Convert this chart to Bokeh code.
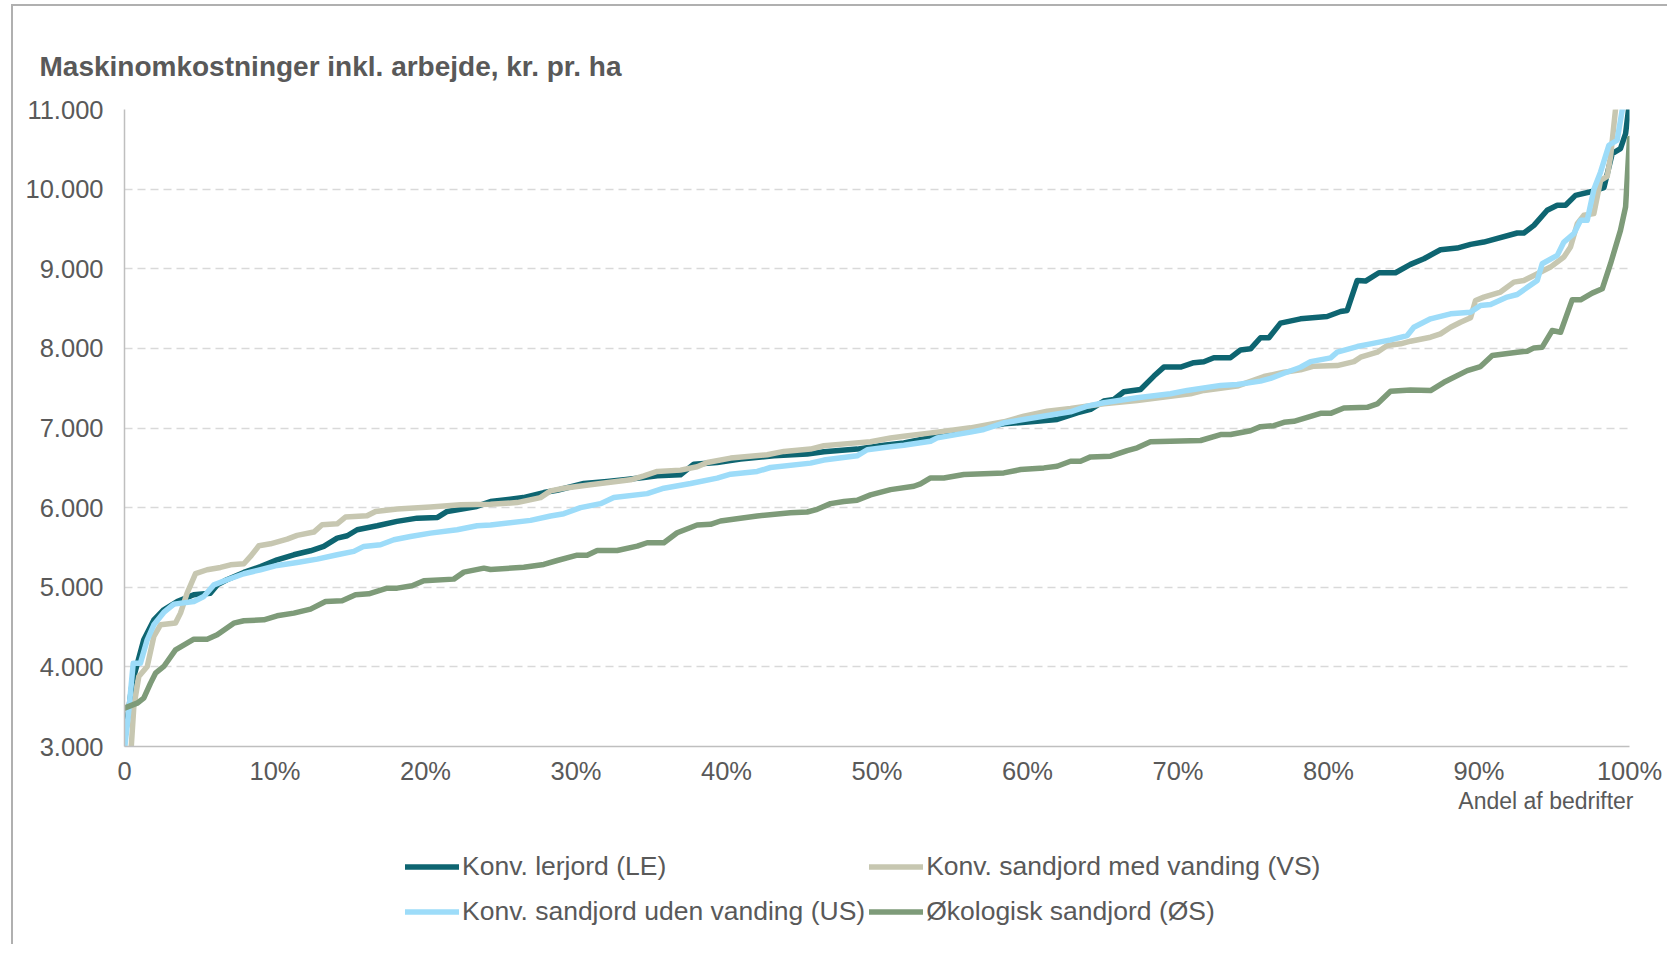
from bokeh.plotting import figure
from bokeh.layouts import column
from bokeh.models import Range1d, FixedTicker, Legend, LegendItem, Title
from bokeh.embed import file_html
from bokeh.resources import INLINE

# ---------------- data (share of farms in %, cost in kr. per ha) ----------------
le_x = [0.0, 0.51, 1.28, 1.95, 2.61, 3.5, 4.6, 5.7, 6.16, 6.8, 7.93, 9.04, 10.14, 11.25,
        12.36, 13.24, 14.13, 14.8, 15.46, 16.79, 18.1, 19.45, 20.8, 21.44, 23.4, 24.32,
        26.5, 27.86, 28.75, 30.52, 32.07, 33.18, 34.51, 35.4, 36.94, 37.83, 39.38, 40.93,
        43.15, 45.36, 46.47, 48.68, 50.3, 51.78, 54.0, 56.21, 58.43, 60.64, 61.97, 63.3,
        64.19, 65.07, 65.74, 66.4, 67.51, 68.4, 69.06, 70.17, 71.05, 71.72, 72.38, 73.49,
        74.15, 74.82, 75.48, 76.04, 76.81, 78.14, 79.91, 80.8, 81.24, 81.91, 82.46, 83.35,
        84.45, 85.45, 86.34, 87.44, 88.55, 89.44, 90.32, 92.54, 92.98, 93.65, 94.53, 95.2,
        95.75, 96.41, 97.63, 98.3, 98.85, 99.4, 99.74, 100.0]
le_y = [3060, 3800, 4340, 4590, 4717, 4820, 4905, 4926, 5030, 5094, 5186, 5261, 5345, 5408,
        5458, 5513, 5617, 5647, 5722, 5772, 5827, 5868, 5877, 5952, 6015, 6076,
        6126, 6189, 6218, 6303, 6328, 6349, 6378, 6399, 6412, 6546, 6567, 6609,
        6651, 6672, 6702, 6735, 6780, 6813, 6897, 6981, 7052, 7086, 7107, 7191,
        7233, 7338, 7358, 7455, 7484, 7652, 7765, 7765, 7820, 7832, 7883, 7883,
        7979, 7994, 8134, 8134, 8317, 8371, 8400, 8463, 8476, 8853, 8845, 8950,
        8950, 9055, 9126, 9239, 9260, 9306, 9335, 9449, 9449, 9545, 9734, 9797,
        9797, 9922, 9977, 10019, 10447, 10509, 10698, 11100]

vs_x = [0.0, 0.45, 0.62, 0.95, 1.51, 1.95, 2.39, 3.39, 3.72, 4.16, 4.72, 5.49, 6.38, 7.04,
        7.93, 8.37, 8.93, 9.7, 10.81, 11.47, 12.58, 13.13, 14.13, 14.68, 16.12, 16.68,
        18.12, 20.33, 22.33, 24.32, 26.09, 27.64, 28.31, 29.19, 30.96, 33.62, 34.51, 35.4,
        36.94, 38.05, 38.72, 40.27, 42.7, 43.81, 45.58, 46.47, 48.24, 49.57, 50.9, 51.78,
        54.0, 56.21, 58.43, 59.76, 61.31, 62.86, 65.07, 67.29, 69.5, 70.83, 71.72, 73.93,
        75.71, 77.04, 78.14, 79.03, 80.58, 81.69, 82.13, 83.24, 83.9, 84.79, 85.45, 86.78,
        87.44, 88.11, 88.77, 89.44, 89.77, 90.32, 91.43, 92.32, 92.98, 93.65, 94.75, 95.64,
        96.08, 96.53, 96.97, 97.63, 98.08, 98.52, 98.74, 99.07, 99.4]
vs_y = [2600, 3000, 3502, 3880, 4005, 4382, 4528, 4550, 4675, 4926, 5170, 5220, 5249, 5282,
        5295, 5387, 5521, 5546, 5605, 5651, 5693, 5785, 5797, 5881, 5898, 5952,
        5982, 6007, 6036, 6042, 6063, 6126, 6210, 6244, 6286, 6349, 6399, 6454,
        6471, 6513, 6567, 6622, 6664, 6706, 6735, 6777, 6807, 6828, 6874, 6897,
        6948, 7002, 7078, 7149, 7212, 7245, 7304, 7346, 7400, 7430, 7472, 7526,
        7646, 7700, 7730, 7776, 7784, 7834, 7889, 7952, 8036, 8057, 8090, 8140,
        8182, 8266, 8329, 8384, 8602, 8644, 8707, 8832, 8853, 8916, 9021, 9147,
        9273, 9566, 9671, 9692, 10111, 10161, 10405, 11000, 11800]

us_x = [0.0, 0.07, 0.29, 0.58, 1.06, 1.51, 1.95, 2.61, 3.28, 4.61, 5.27, 5.94, 6.82, 7.93,
        9.04, 10.14, 11.47, 12.8, 14.13, 15.24, 15.9, 17.01, 17.9, 19.0, 20.33, 22.1,
        23.43, 24.32, 26.98, 28.31, 29.19, 30.3, 31.63, 32.51, 34.73, 35.84, 37.61, 39.38,
        40.27, 42.04, 42.92, 45.58, 46.47, 48.68, 49.35, 50.9, 51.78, 53.56, 54.0, 56.21,
        57.1, 58.43, 60.64, 62.86, 63.97, 65.07, 67.29, 69.5, 70.61, 72.83, 73.93, 75.48,
        76.15, 77.04, 78.14, 78.81, 80.14, 80.58, 81.91, 82.79, 84.12, 85.23, 85.67, 86.78,
        88.11, 89.44, 90.1, 90.77, 91.87, 92.54, 93.87, 94.2, 95.2, 95.64, 96.3, 96.75,
        97.19, 97.63, 98.08, 98.63, 99.18, 99.52, 100.0]
us_y = [2950, 3084, 3460, 4047, 4047, 4340, 4528, 4683, 4788, 4821, 4884, 5030, 5094, 5170,
        5220, 5274, 5312, 5353, 5408, 5450, 5513, 5534, 5597, 5638, 5680, 5722,
        5772, 5782, 5840, 5895, 5924, 6000, 6050, 6126, 6176, 6244, 6303, 6370,
        6420, 6454, 6504, 6559, 6597, 6651, 6727, 6765, 6784, 6834, 6876, 6948,
        6981, 7065, 7136, 7203, 7275, 7317, 7379, 7430, 7472, 7535, 7547, 7589,
        7623, 7688, 7763, 7834, 7881, 7952, 8023, 8057, 8107, 8161, 8266, 8371,
        8434, 8455, 8539, 8551, 8644, 8677, 8853, 9063, 9168, 9335, 9440, 9608,
        9608, 9994, 10216, 10551, 10614, 11000, 11500]

os_x = [0.0, 0.84, 1.28, 1.73, 2.06, 2.61, 3.39, 4.61, 5.49, 6.16, 7.26, 7.93, 9.26, 10.14,
        11.25, 12.36, 13.36, 14.46, 15.35, 16.23, 17.45, 18.12, 19.11, 19.89, 21.88, 22.55,
        23.88, 24.32, 26.53, 27.86, 28.75, 30.08, 30.74, 31.41, 32.74, 34.07, 34.73, 35.84,
        36.72, 38.05, 38.94, 39.6, 40.93, 42.04, 44.25, 45.36, 46.03, 46.91, 47.8, 48.68,
        49.57, 50.9, 52.45, 52.89, 53.56, 54.44, 55.77, 58.43, 59.54, 61.09, 61.97, 62.86,
        63.52, 64.19, 65.52, 66.62, 67.29, 68.17, 69.5, 71.5, 72.83, 73.49, 74.82, 75.48,
        76.37, 77.04, 77.7, 78.59, 79.47, 80.14, 81.02, 82.57, 83.24, 84.12, 85.45, 86.78,
        87.67, 89.22, 90.1, 90.88, 92.54, 93.2, 93.65, 94.2, 94.86, 95.42, 96.19, 96.75,
        97.52, 98.19, 98.74, 99.4, 99.74, 100.0]
os_y = [3482, 3544, 3607, 3796, 3921, 4005, 4214, 4348, 4348, 4403, 4549, 4579, 4591, 4641,
        4675, 4725, 4821, 4830, 4905, 4918, 4989, 4989, 5018, 5081, 5102, 5190,
        5240, 5223, 5252, 5286, 5336, 5403, 5403, 5462, 5462, 5517, 5559, 5559,
        5685, 5782, 5790, 5832, 5866, 5895, 5937, 5945, 5979, 6050, 6076, 6092,
        6160, 6226, 6268, 6298, 6373, 6373, 6415, 6436, 6478, 6499, 6520, 6583,
        6583, 6637, 6646, 6717, 6751, 6826, 6834, 6843, 6918, 6918, 6966, 7017,
        7029, 7071, 7084, 7134, 7184, 7184, 7252, 7260, 7302, 7461, 7478, 7470,
        7574, 7721, 7772, 7910, 7952, 7964, 8006, 8015, 8224, 8203, 8610, 8610,
        8694, 8748, 9063, 9482, 9776, 10635]

series_names = ["Konv. lerjord (LE)", "Konv. sandjord med vanding (VS)",
                "Konv. sandjord uden vanding (US)", "Økologisk sandjord (ØS)"]
series_colors = ["#0e6571", "#c7c7b1", "#9ddcf9", "#7e9b79"]

x_ticks = [0, 10, 20, 30, 40, 50, 60, 70, 80, 90, 100]
x_tick_labels = ["0", "10%", "20%", "30%", "40%", "50%", "60%", "70%", "80%", "90%", "100%"]
y_ticks = [3000, 4000, 5000, 6000, 7000, 8000, 9000, 10000, 11000]
y_tick_labels = ["3.000", "4.000", "5.000", "6.000", "7.000", "8.000", "9.000", "10.000", "11.000"]

title_text = "Maskinomkostninger inkl. arbejde, kr. pr. ha"
x_label_text = "Andel af bedrifter"

# ---------------- styling ----------------
TXT = "#595959"
FONT = "Liberation Sans"
BORDER = "2px solid #b0b0b0"
LW = 5.5

# ---------------- main chart ----------------
p = figure(width=1656, height=825, output_backend="svg", toolbar_location=None,
           x_range=Range1d(0, 100), y_range=Range1d(3000, 11000),
           min_border_left=111, min_border_right=40, min_border_top=103,
           min_border_bottom=85, background_fill_color="white",
           border_fill_color="white")
p.outline_line_color = None
p.styles = {"border-left": BORDER, "border-top": BORDER}

p.title.text = title_text
p.title.text_font = FONT
p.title.text_font_size = "28px"
p.title.text_font_style = "bold"
p.title.text_color = TXT
p.title.align = "left"
p.title.offset = -85
p.title.standoff = 56

p.xaxis.ticker = FixedTicker(ticks=x_ticks)
p.xaxis.major_label_overrides = {t: l for t, l in zip(x_ticks, x_tick_labels)}
p.yaxis.ticker = FixedTicker(ticks=y_ticks)
p.yaxis.major_label_overrides = {t: l for t, l in zip(y_ticks, y_tick_labels)}
for ax in (p.xaxis[0], p.yaxis[0]):
    ax.axis_line_color = "#bfbfbf"
    ax.axis_line_width = 1.5
    ax.major_tick_line_color = None
    ax.minor_tick_line_color = None
    ax.major_label_text_font = FONT
    ax.major_label_text_font_size = "25.5px"
    ax.major_label_text_color = TXT
p.xaxis.major_label_standoff = 4
p.yaxis.major_label_standoff = 15

p.xgrid.grid_line_color = None
p.ygrid.grid_line_color = "#d9d9d9"
p.ygrid.grid_line_width = 1.4
p.ygrid.grid_line_dash = "8 5"

data = [(le_x, le_y), (vs_x, vs_y), (us_x, us_y), (os_x, os_y)]
for (xs, ys), c in zip(data, series_colors):
    p.line(xs, ys, line_color=c, line_width=LW, line_join="round", line_cap="round")

xlab = Title(text=x_label_text, align="right", text_font=FONT, text_font_size="23px",
             text_font_style="normal", text_color=TXT, standoff=-4, offset=-4)
p.add_layout(xlab, "below")

# ---------------- legend strip ----------------
pl = figure(width=1656, height=115, output_backend="svg", toolbar_location=None,
            x_range=Range1d(0, 1), y_range=Range1d(0, 1),
            x_axis_type=None, y_axis_type=None, min_border=0,
            background_fill_color="white", border_fill_color="white")
pl.outline_line_color = None
pl.grid.visible = False
pl.styles = {"border-left": BORDER}

nan = float("nan")
items = []
for n, c in zip(series_names, series_colors):
    r = pl.line([nan, nan], [nan, nan], line_color=c, line_width=LW, line_cap="round")
    items.append(LegendItem(label=n, renderers=[r]))
legend = Legend(items=items, ncols=2, orientation="horizontal", location=(281, 12),
                label_text_font=FONT, label_text_font_size="26.5px", label_text_color=TXT,
                glyph_width=54, glyph_height=41, label_height=41, label_standoff=3,
                spacing=4, padding=0, margin=0, border_line_color=None,
                background_fill_alpha=0)
pl.add_layout(legend, "center")

layout = column(p, pl, spacing=0, margin=(4, 0, 0, 11))
open("out.html", "w").write(file_html(layout, INLINE))
